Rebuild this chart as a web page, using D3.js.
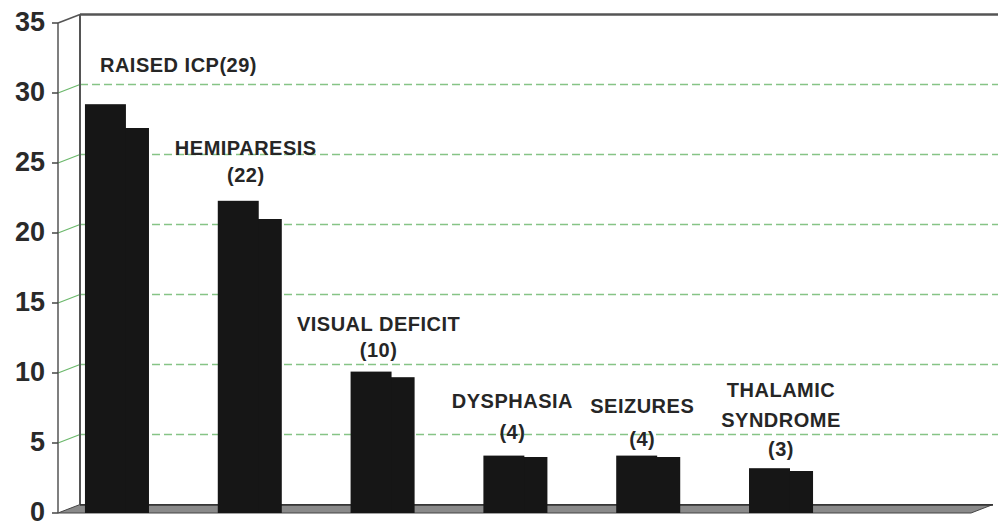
<!DOCTYPE html>
<html>
<head>
<meta charset="utf-8">
<script src="https://cdn.jsdelivr.net/npm/d3@7"></script>
<style>
  html, body { margin: 0; padding: 0; background: #fff; }
  svg { display: block; }
</style>
</head>
<body>
<svg id="chart" width="998" height="527"></svg>
<script>
// ---- data ----
const categories = ["RAISED ICP", "HEMIPARESIS", "VISUAL DEFICIT", "DYSPHASIA", "SEIZURES", "THALAMIC SYNDROME"];
const frontValues = [29.2, 22.3, 10.1, 4.1, 4.1, 3.2];
const sideValues  = [27.5, 21.0, 9.7, 4.0, 4.0, 3.0];
const labelLines  = [["RAISED ICP(29)"], ["HEMIPARESIS", "(22)"], ["VISUAL DEFICIT", "(10)"], ["DYSPHASIA", "(4)"], ["SEIZURES", "(4)"], ["THALAMIC", "SYNDROME", "(3)"]];
const yTicks = [0, 5, 10, 15, 20, 25, 30, 35];

// ---- layout (styles / positions, not data) ----
const W = 998, H = 527;
const x0 = 58, depthX = 22, depthY = -8.5;
const floorRight = 971;
const svg = d3.select("#chart");

const y = d3.scaleLinear().domain([0, 35]).range([513, 23]);
const x = d3.scaleBand().domain(categories).range([58, 840]).paddingInner(0.518).paddingOuter(0.203);
const frontFrac = 0.64;

// label placement: dx from band center, baseline for each line in value units
const labelLayout = [
  { anchor: "start", dx: -17, ys: [31.5] },
  { anchor: "middle", dx: -4, ys: [25.57, 23.64] },
  { anchor: "middle", dx: -4, ys: [13.0, 11.14] },
  { anchor: "middle", dx: -3, ys: [7.5, 5.29] },
  { anchor: "middle", dx: -6, ys: [7.14, 4.79] },
  { anchor: "middle", dx: 0, ys: [8.29, 6.14, 4.07] }
];

// ---- back wall top border ----
svg.append("line")
  .attr("x1", x0 + depthX).attr("x2", W)
  .attr("y1", y(35) + depthY).attr("y2", y(35) + depthY)
  .attr("stroke", "#555").attr("stroke-width", 2.5);

// ---- gridlines (back wall) ----
const gridVals = yTicks.filter(v => v > 0 && v < 35);
svg.append("g").selectAll("line").data(gridVals).join("line")
  .attr("x1", x0 + depthX).attr("x2", W)
  .attr("y1", d => y(d) + depthY).attr("y2", d => y(d) + depthY)
  .attr("stroke", "#86c486").attr("stroke-width", 1.3)
  .attr("stroke-dasharray", "8,4");

// slanted connectors on left side wall
svg.append("g").selectAll("line").data(gridVals).join("line")
  .attr("x1", x0).attr("x2", x0 + depthX)
  .attr("y1", d => y(d)).attr("y2", d => y(d) + depthY)
  .attr("stroke", "#6bb86b").attr("stroke-width", 1.3);
svg.append("line")
  .attr("x1", x0).attr("x2", x0 + depthX)
  .attr("y1", y(35)).attr("y2", y(35) + depthY)
  .attr("stroke", "#555").attr("stroke-width", 1.5);

// ---- back wall left edge ----
svg.append("line")
  .attr("x1", x0 + depthX).attr("x2", x0 + depthX)
  .attr("y1", y(35) + depthY).attr("y2", y(0) + depthY)
  .attr("stroke", "#555").attr("stroke-width", 2);

// ---- floor ----
const floorPts = [
  [x0, y(0)], [x0 + depthX, y(0) + depthY],
  [floorRight + depthX, y(0) + depthY], [floorRight, y(0)]
];
svg.append("path")
  .attr("d", d3.line()(floorPts) + "Z")
  .attr("fill", "#8a8a8a").attr("stroke", "#444").attr("stroke-width", 1);
svg.append("line")
  .attr("x1", x0 + depthX).attr("x2", floorRight + depthX)
  .attr("y1", y(0) + depthY + 0.5).attr("y2", y(0) + depthY + 0.5)
  .attr("stroke", "#333").attr("stroke-width", 1.5);

// ---- front axis ----
svg.append("line")
  .attr("x1", x0).attr("x2", x0)
  .attr("y1", y(35)).attr("y2", y(0))
  .attr("stroke", "#555").attr("stroke-width", 1.5);
svg.append("g").selectAll("line").data(yTicks).join("line")
  .attr("x1", x0 - 6).attr("x2", x0)
  .attr("y1", d => y(d)).attr("y2", d => y(d))
  .attr("stroke", "#444").attr("stroke-width", 1.5);
svg.append("g").selectAll("text").data(yTicks).join("text")
  .attr("x", 45).attr("y", d => y(d))
  .attr("dy", "0.3em")
  .attr("text-anchor", "end")
  .attr("font-family", "Liberation Sans, Arial, sans-serif")
  .attr("font-weight", "bold")
  .attr("font-size", 27)
  .attr("fill", "#2a2a2a")
  .text(d => d);

// ---- bars ----
const bw = x.bandwidth();
const bars = svg.append("g");
bars.selectAll("rect.side").data(categories).join("rect")
  .attr("class", "side")
  .attr("x", d => x(d) + bw * frontFrac - 1)
  .attr("width", bw * (1 - frontFrac) + 1)
  .attr("y", (d, i) => y(sideValues[i]))
  .attr("height", (d, i) => y(0) - y(sideValues[i]))
  .attr("fill", "#161616");
bars.selectAll("rect.front").data(categories).join("rect")
  .attr("class", "front")
  .attr("x", d => x(d))
  .attr("width", bw * frontFrac)
  .attr("y", (d, i) => y(frontValues[i]))
  .attr("height", (d, i) => y(0) - y(frontValues[i]))
  .attr("fill", "#161616");

// ---- labels ----
const lg = svg.append("g")
  .attr("font-family", "Liberation Sans, Arial, sans-serif")
  .attr("font-weight", "bold")
  .attr("font-size", 20)
  .attr("fill", "#262626");
categories.forEach((c, i) => {
  const L = labelLayout[i];
  const cx = x(c) + bw / 2 + L.dx;
  labelLines[i].forEach((t, j) => {
    lg.append("text")
      .attr("x", cx)
      .attr("y", y(L.ys[j]))
      .attr("text-anchor", L.anchor)
      .attr("letter-spacing", 0.5)
      .text(t);
  });
});
</script>
</body>
</html>
